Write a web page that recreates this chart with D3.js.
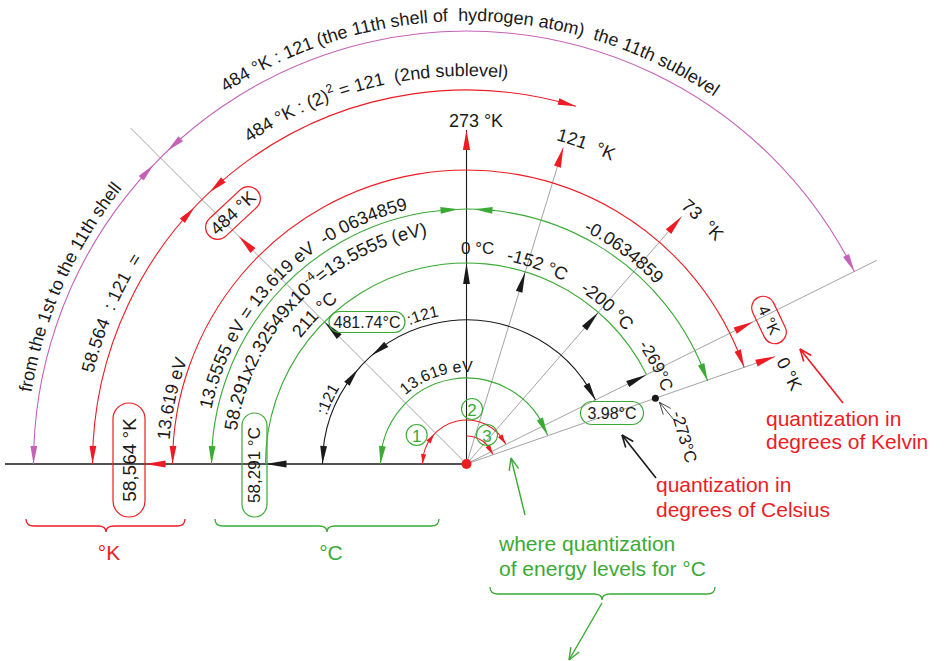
<!DOCTYPE html>
<html>
<head>
<meta charset="utf-8">
<script src="https://cdn.jsdelivr.net/npm/d3@7"></script>
<style>
  body { margin: 0; background: #fff; }
  text { font-family: 'Liberation Sans', Arial, sans-serif; white-space: pre; }
</style>
</head>
<body>
<svg width="944" height="661"></svg>
<script>
var svg = d3.select('svg');
var cx = 466.5, cy = 464;

// colours
var col = { red: '#ed1c24', green: '#3aaa35', magenta: '#c462b9', gray: '#8c8c8c', ink: '#1a1a1a' };

// angles in degrees, radii in drawing units
var ang = d3.scaleLinear().domain([0, 180]).range([0, Math.PI]);
var rad = d3.scaleLinear().domain([0, 100]).range([0, 100]);

// rays from the centre
var rayAngles = [135, 73, 49, 26.4, 19.2];
var rayLengths = [475, 331, 328, 458, 327];

// rings (radius, start angle, end angle)
var ringNames = ['shell', 'sub', 'kelvin', 'ev', 'celsius', 'div', 'inner', 'q1', 'q3'];
var ringRadii = [433, 374, 294, 255, 201, 144, 86, 44, 28];
var ringFrom  = [180, 180, 180, 180, 180, 180, 180, 180, 90];
var ringTo    = [26.4, 73, 19.2, 19, 26.4, 26.4, 19.5, 27, 20];
var ringColor = ['magenta', 'red', 'red', 'green', 'green', 'ink', 'green', 'red', 'red'];
var ringStartArrow = [1, 1, 1, 1, 0, 1, 1, 1, 0];
var ringEndArrow   = [1, 1, 1, 1, 0, 1, 1, 1, 1];
var ringCross      = [135, 135, null, 90, null, 135, null, null, null];
var ringGap        = [10, 11, 0, 8, 0, 10, 0, 0, 0];

// arrows on rays: black ones reach the celsius ring, red ones the kelvin labels
var blackRayAngles = [180, 135, 90, 73, 49, 26.4];
var redRayAngles = [180, 135, 90, 73, 49, 26.4, 19.2];
var redRayTips   = [321, 322, 334, 331, 328, 320, 327];

// labels that follow the arcs: text, baseline radius, centre angle, size
var arcTexts = ['484 °K : 121 (the 11th shell of  hydrogen atom)  the 11th sublevel',
  'from the 1st to the 11th shell',
  '484 °K : (2)^{2} = 121  (2nd sublevel)',
  '58.564  : 121  =',
  '13.619 eV',
  '13.5555 eV = 13.619 eV  -0 0634859',
  '-0.0634859',
  '58.291x2.32549x10^{-4}=13.5555 (eV)',
  '211 °C', '-152 °C', '-200 °C', '-269°C',
  ':121', ':121', '13.619 eV',
  '121  °K', '73  °K'];
var arcTextR = [443, 441, 388, 384, 298, 261, 261, 232, 208, 207, 207, 209, 150, 148, 92, 336, 334];
var arcTextA = [89.5, 156, 104, 157, 167.5, 135.5, 53.5, 135.8, 135.5, 70.5, 48.4, 27.5, 106.5, 155, 109, 69.5, 46];
var arcTextS = [18, 18, 18, 18, 18, 18, 18, 18.5, 18, 18, 18, 17, 16, 16, 16, 18, 18];

// labels in rounded boxes
var boxTexts = ['484 °K', '4 °K', '58,564 °K', '58,291 °C', '481.74°C', '3.98°C'];
var boxColor = ['red', 'red', 'red', 'green', 'green', 'green'];

// circled level numbers
var levelNums = ['1', '2', '3'];

function pt(deg, r) {
  var a = ang(deg);
  return [cx + rad(r) * Math.cos(a), cy - rad(r) * Math.sin(a)];
}

function tri(g, tip, base, color, hw) {
  var dx = tip[0] - base[0], dy = tip[1] - base[1];
  var l = Math.sqrt(dx * dx + dy * dy);
  var nx = -dy / l * hw, ny = dx / l * hw;
  g.append('path')
    .attr('d', 'M' + tip + 'L' + [base[0] + nx, base[1] + ny] + 'L' + [base[0] - nx, base[1] - ny] + 'Z')
    .attr('fill', color);
}

// side = +1 : base at larger angle, side = -1 : base at smaller angle
function arcArrow(g, r, tipDeg, side, color, len, hw) {
  var d = len / r * 180 / Math.PI;
  tri(g, pt(tipDeg, r), pt(tipDeg + side * d, r), color, hw);
}

function openArrow(g, x1, y1, x2, y2, color, w) {
  g.append('line').attr('x1', x1).attr('y1', y1).attr('x2', x2).attr('y2', y2)
    .attr('stroke', color).attr('stroke-width', w);
  var a = Math.atan2(y2 - y1, x2 - x1);
  [0.38, -0.38].forEach(function(o) {
    g.append('line').attr('x1', x2).attr('y1', y2)
      .attr('x2', x2 - 13 * Math.cos(a + o)).attr('y2', y2 - 13 * Math.sin(a + o))
      .attr('stroke', color).attr('stroke-width', w);
  });
}

var lines = svg.append('g');
var marks = svg.append('g');
var labels = svg.append('g');
var defs = svg.append('defs');

// gray rays
rayAngles.forEach(function(a, i) {
  var p = pt(a, rayLengths[i]);
  lines.append('line').attr('x1', cx).attr('y1', cy).attr('x2', p[0]).attr('y2', p[1])
    .attr('stroke', col.gray).attr('stroke-width', 0.8);
});

// axis lines
lines.append('line').attr('x1', 5).attr('y1', cy).attr('x2', cx).attr('y2', cy)
  .attr('stroke', col.ink).attr('stroke-width', 1.3);
var vTop = pt(90, 334);
lines.append('line').attr('x1', cx).attr('y1', cy).attr('x2', vTop[0]).attr('y2', vTop[1])
  .attr('stroke', col.ink).attr('stroke-width', 1.1);

// rings
ringRadii.forEach(function(r, i) {
  var p = d3.path();
  p.arc(cx, cy, rad(r), -ang(ringFrom[i]), -ang(ringTo[i]), false);
  lines.append('path').attr('d', p.toString()).attr('fill', 'none')
    .attr('stroke', col[ringColor[i]]).attr('stroke-width', 1.1);
  var small = r < 60;
  var len = small ? 10 : 18, hw = small ? 2.6 : 3.4;
  var c = col[ringColor[i]];
  if (ringStartArrow[i]) arcArrow(marks, r, ringFrom[i], -1, c, len, hw);
  if (ringEndArrow[i]) arcArrow(marks, r, ringTo[i], 1, c, len, hw);
  if (ringCross[i] !== null) {
    var g = ringGap[i] / r * 180 / Math.PI;
    arcArrow(marks, r, ringCross[i] + g, 1, c, len, hw);
    arcArrow(marks, r, ringCross[i] - g, -1, c, len, hw);
  }
  if (ringNames[i] === 'q1') arcArrow(marks, r, 137, 1, c, len, hw);
});

// arrows along rays
blackRayAngles.forEach(function(a) {
  tri(marks, pt(a, 201), pt(a, 180), col.ink, 3.4);
});
redRayAngles.forEach(function(a, i) {
  tri(marks, pt(a, redRayTips[i]), pt(a, redRayTips[i] - 20), col.red, 3.6);
});

// text along arcs
function addArcText(txt, r, a, size, color, id) {
  var p = d3.path();
  p.arc(cx, cy, rad(r), -ang(200), -ang(-20), false);
  defs.append('path').attr('id', id).attr('d', p.toString());
  var t = labels.append('text').attr('font-size', size).attr('fill', color);
  var tp = t.append('textPath').attr('href', '#' + id)
    .attr('startOffset', rad(r) * (ang(200) - ang(a)))
    .attr('text-anchor', 'middle');
  var parts = txt.split(/\^\{|\}/);
  parts.forEach(function(s, k) {
    if (k % 2 === 1) {
      tp.append('tspan').attr('dy', -size * 0.42).attr('font-size', size * 0.68).text(s);
    } else {
      var ts = tp.append('tspan').text(s);
      if (k > 0) ts.attr('dy', size * 0.42);
    }
  });
}
arcTexts.forEach(function(s, i) {
  addArcText(s, arcTextR[i], arcTextA[i], arcTextS[i], col.ink, 'lbl' + i);
});

// plain labels
labels.append('text').attr('x', 476).attr('y', 127).attr('text-anchor', 'middle')
  .attr('font-size', 18).attr('fill', col.ink).text('273 °K');
labels.append('text').attr('x', 461).attr('y', 254)
  .attr('font-size', 17).attr('fill', col.ink).text('0 °C');
labels.append('text').attr('transform', 'translate(789,374) rotate(63)')
  .attr('text-anchor', 'middle').attr('dominant-baseline', 'central')
  .attr('font-size', 18).attr('fill', col.ink).text('0 °K');
labels.append('text').attr('transform', 'translate(684,437) rotate(74)')
  .attr('text-anchor', 'middle').attr('dominant-baseline', 'central')
  .attr('font-size', 17).attr('fill', col.ink).text('-273°C');

// boxes
var boxX = [233, 769, 129, 254.5, 367, 612];
var boxY = [213, 320, 460, 465, 322, 413];
var boxRot = [-43, 64.6, -90, -90, 0, 0];
var boxW = [66, 50, 114, 104, 76, 63];
var boxH = [24, 23, 32, 25, 21, 23];
var boxSize = [18, 16, 19, 17, 16, 16];
boxTexts.forEach(function(s, i) {
  var g = labels.append('g').attr('transform', 'translate(' + boxX[i] + ',' + boxY[i] + ') rotate(' + boxRot[i] + ')');
  g.append('rect').attr('x', -boxW[i] / 2).attr('y', -boxH[i] / 2)
    .attr('width', boxW[i]).attr('height', boxH[i]).attr('rx', boxH[i] / 2)
    .attr('fill', 'none').attr('stroke', col[boxColor[i]]).attr('stroke-width', 1.2);
  g.append('text').attr('text-anchor', 'middle').attr('dominant-baseline', 'central')
    .attr('font-size', boxSize[i]).attr('fill', col.ink).text(s);
});

// circled numbers
var numX = [416.7, 472, 487], numY = [435, 409, 435];
levelNums.forEach(function(s, i) {
  labels.append('circle').attr('cx', numX[i]).attr('cy', numY[i]).attr('r', 10.5)
    .attr('fill', 'none').attr('stroke', col.green).attr('stroke-width', 1.1);
  labels.append('text').attr('x', numX[i]).attr('y', numY[i] + 1)
    .attr('text-anchor', 'middle').attr('dominant-baseline', 'central')
    .attr('font-size', 17).attr('fill', col.green).text(s);
});

// dots
marks.append('circle').attr('cx', cx).attr('cy', cy).attr('r', 5).attr('fill', col.red);
var dot = pt(19.2, 200);
marks.append('circle').attr('cx', dot[0]).attr('cy', dot[1]).attr('r', 3.5).attr('fill', col.ink);
openArrow(marks, 674, 420, dot[0] + 4, dot[1] + 4, col.ink, 0.8);

// braces
function brace(x0, x1, xc, y0, color) {
  var y1 = y0 + 7, y2 = y0 + 13;
  var d = 'M' + x0 + ',' + y0 + 'Q' + x0 + ',' + y1 + ' ' + (x0 + 8) + ',' + y1 +
    'L' + (xc - 8) + ',' + y1 + 'Q' + xc + ',' + y1 + ' ' + xc + ',' + y2 +
    'Q' + xc + ',' + y1 + ' ' + (xc + 8) + ',' + y1 +
    'L' + (x1 - 8) + ',' + y1 + 'Q' + x1 + ',' + y1 + ' ' + x1 + ',' + y0;
  marks.append('path').attr('d', d).attr('fill', 'none').attr('stroke', color).attr('stroke-width', 1.3);
}
brace(26, 185, 106, 519, col.red);
brace(215, 439, 327, 519, col.green);
brace(490, 715, 602, 587, col.green);

// notes
function note(x, y, s, color, anchor) {
  labels.append('text').attr('x', x).attr('y', y).attr('text-anchor', anchor || 'start')
    .attr('font-size', 21).attr('fill', color).text(s);
}
note(109, 560, '°K', col.red, 'middle');
note(331, 560, '°C', col.green, 'middle');
note(499, 551, 'where quantization', col.green);
note(499, 576, 'of energy levels for °C', col.green);
note(656, 492, 'quantization in', col.red);
note(656, 517, 'degrees of Celsius', col.red);
note(766, 426, 'quantization in', col.red);
note(766, 449, 'degrees of Kelvin', col.red);

openArrow(marks, 656, 478, 622, 435, col.ink, 1.6);
openArrow(marks, 843, 403, 800, 349, col.red, 1.6);
openArrow(marks, 525, 515, 511, 458, col.green, 1.4);
openArrow(marks, 602, 603, 569, 660, col.green, 1.4);
</script>
</body>
</html>
